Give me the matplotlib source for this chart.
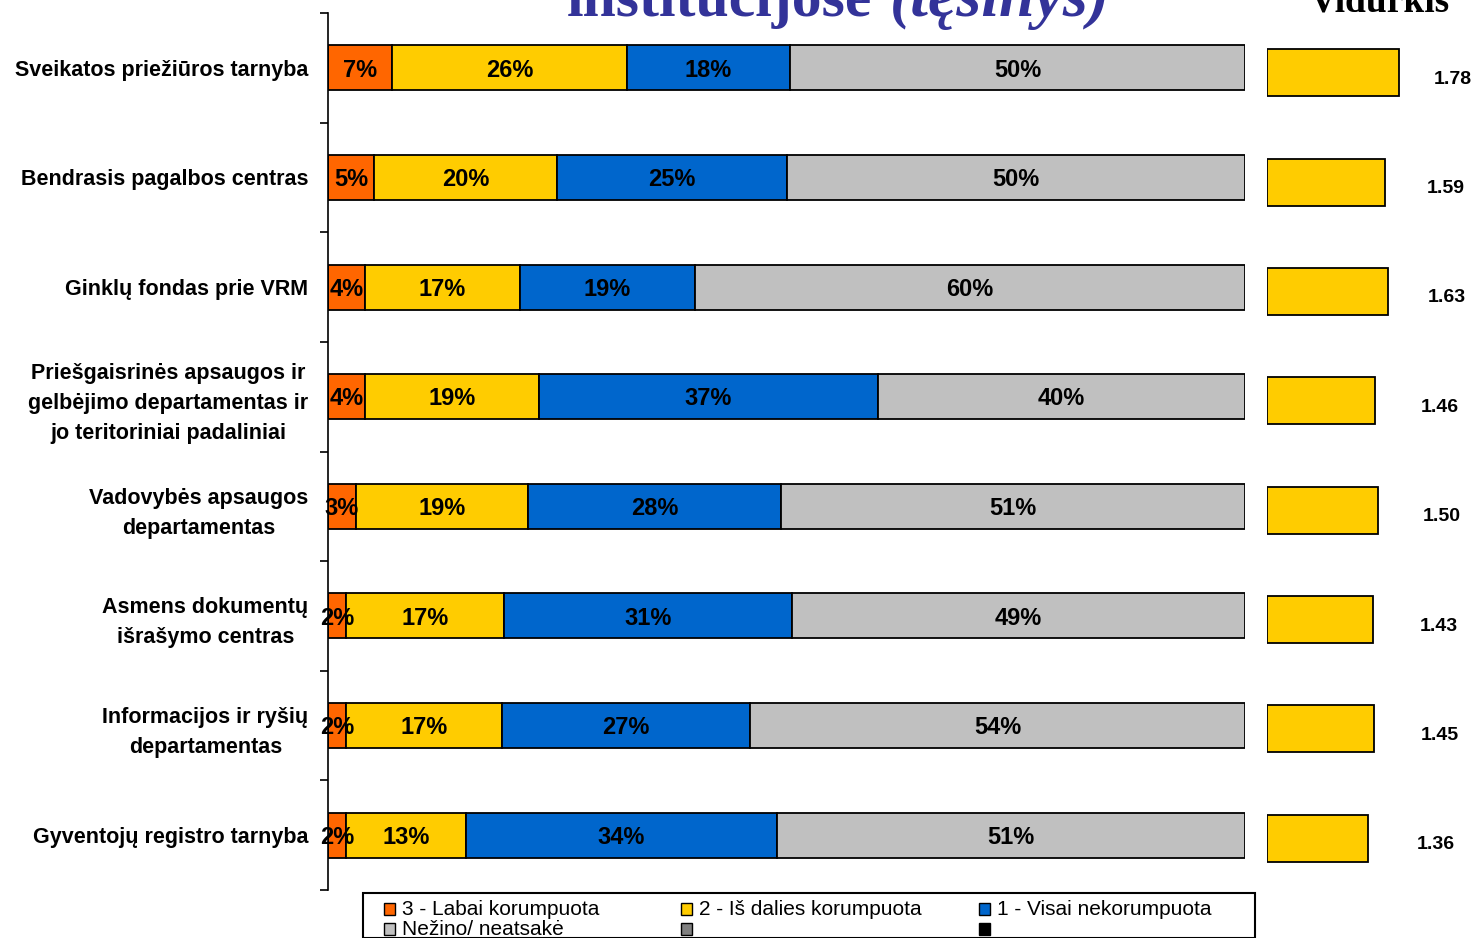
import matplotlib
matplotlib.use("Agg")
import matplotlib.pyplot as plt
from matplotlib.patches import Rectangle

plt.rcParams['font.family'] = ['Liberation Sans', 'DejaVu Sans']

# data
institutions = [
    "Sveikatos priežiūros tarnyba",
    "Bendrasis pagalbos centras",
    "Ginklų fondas prie VRM",
    "Priešgaisrinės apsaugos ir\ngelbėjimo departamentas ir\njo teritoriniai padaliniai",
    "Vadovybės apsaugos\ndepartamentas",
    "Asmens dokumentų\nišrašymo centras",
    "Informacijos ir ryšių\ndepartamentas",
    "Gyventojų registro tarnyba",
]
labai = [7.0, 5.0, 4.0, 4.0, 3.0, 2.0, 2.0, 2.0]
is_dalies = [25.6, 20.0, 16.9, 19.0, 18.8, 17.2, 17.0, 13.0]
visai = [17.8, 25.0, 19.1, 37.0, 27.6, 31.4, 27.0, 34.0]
nezino = [49.6, 50.0, 60.0, 40.0, 50.6, 49.4, 54.0, 51.0]
vidurkis = [1.78, 1.59, 1.63, 1.46, 1.50, 1.43, 1.45, 1.36]

series_names = ["3 - Labai korumpuota", "2 - Iš dalies korumpuota",
                "1 - Visai nekorumpuota", "Nežino/ neatsakė", "", ""]
series_colors = ["#FF6600", "#FFCC00", "#0066CC", "#C0C0C0", "#808080", "#000000"]

W, H = 1474, 938
fig = plt.figure(figsize=(W / 100, H / 100), dpi=100)

# main stacked bars
ax = fig.add_axes([328 / W, 1 - 890 / H, (1245 - 328) / W, (890 - 13) / H])
rows = range(len(institutions))
left = [0.0] * len(institutions)
for vals, col in zip([labai, is_dalies, visai, nezino], series_colors):
    ax.barh(rows, vals, left=left, height=0.41, color=col,
            edgecolor="black", linewidth=1.3)
    for i, v in enumerate(vals):
        ax.text(left[i] + v / 2, i + 0.02, f"{round(v)}%", ha="center", va="center",
                fontsize=17, fontweight="bold", color="black", zorder=5)
    left = [l + v for l, v in zip(left, vals)]

ax.set_xlim(0, 100)
ax.set_ylim(len(institutions) - 0.5, -0.5)
ax.set_xticks([])
ax.set_yticks(list(rows))
ax.set_yticklabels(institutions, fontsize=15.5, fontweight="bold",
                   multialignment="center", linespacing=1.55)
ax.set_yticks([i - 0.5 for i in range(len(institutions) + 1)], minor=True)
ax.tick_params(axis="y", which="major", length=0, pad=14)
ax.tick_params(axis="y", which="minor", length=6, width=1.2, direction="out")
for s in ["top", "right", "bottom"]:
    ax.spines[s].set_visible(False)
ax.spines["left"].set_linewidth(1.2)

# average bars on the right
ax2 = fig.add_axes([1267 / W, 1 - 893 / H, (1474 - 1267) / W, (893 - 18) / H])
ax2.barh(rows, vidurkis, height=0.43, color="#FFCC00", edgecolor="black", linewidth=1.3)
for i, v in enumerate(vidurkis):
    ax2.text(1.54 + 0.55 * v, i + 0.06, f"{v:.2f}", ha="center", va="center",
             fontsize=14, fontweight="bold", clip_on=False)
ax2.set_xlim(0, 2.8)
ax2.set_ylim(len(institutions) - 0.5, -0.5)
ax2.axis("off")

# titles (partly cut off at the top, as in the source)
fig.text(872 / W, 1 - 16 / H, "institucijose", ha="right", va="baseline",
         fontsize=43, fontweight="bold", color="#333399", family="Liberation Serif")
fig.text(890 / W, 1 - 16 / H, "(tęsinys)", ha="left", va="baseline",
         fontsize=46, fontweight="bold", style="italic", color="#333399",
         family="Liberation Serif")
fig.text(1380 / W, 1 - 11 / H, "Vidurkis", ha="center", va="baseline",
         fontsize=27, fontweight="bold", color="black", family="Liberation Serif")

# legend box
fig.add_artist(Rectangle((363 / W, 0), (1255 - 363) / W, 1 - 893 / H,
                         transform=fig.transFigure, facecolor="white",
                         edgecolor="black", linewidth=1.5))
col_x = [384, 681, 979]
row_y = [909, 929]
for k, (name, col) in enumerate(zip(series_names, series_colors)):
    cx = col_x[k % 3]
    cy = row_y[k // 3]
    fig.add_artist(Rectangle((cx / W, 1 - (cy + 6) / H), 11 / W, 12 / H,
                             transform=fig.transFigure, facecolor=col,
                             edgecolor="black", linewidth=1.0))
    fig.text((cx + 18) / W, 1 - cy / H, name, ha="left", va="center", fontsize=15)

fig.savefig("out.png", dpi=100)
